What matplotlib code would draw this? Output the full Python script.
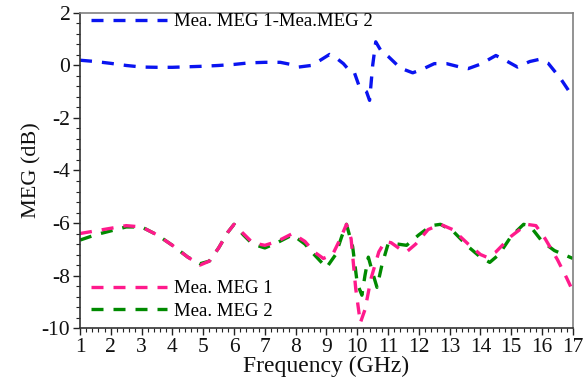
import matplotlib
matplotlib.use("Agg")
import matplotlib.pyplot as plt
from matplotlib.ticker import MultipleLocator

plt.rcParams['font.family'] = ['Liberation Serif', 'DejaVu Serif']
plt.rcParams['axes.unicode_minus'] = False

# Mea. MEG 1 - Mea. MEG 2 (blue)
f_diff = [1.0, 1.5, 2.0, 2.5, 3.0, 3.5, 4.0, 4.5, 5.0, 5.5, 6.0, 6.5, 7.0, 7.5, 7.8,
          8.1, 8.5, 8.8, 9.1, 9.3, 9.55, 9.75, 9.9, 10.05, 10.2, 10.3, 10.4, 10.5,
          10.6, 10.75, 11.0, 11.4, 11.8, 12.1, 12.5, 12.9, 13.3, 13.6, 14.0, 14.5,
          14.8, 15.2, 15.6, 15.9, 16.2, 16.6, 17.0]
meg_diff = [0.2, 0.15, 0.08, 0.0, -0.06, -0.07, -0.07, -0.05, -0.03, 0.0, 0.04, 0.1,
            0.12, 0.12, 0.05, -0.06, 0.0, 0.2, 0.42, 0.3, 0.07, -0.2, -0.25, -0.75,
            -0.9, -1.0, -1.33, 0.0, 0.9, 0.6, 0.35, -0.1, -0.28, -0.15, 0.07, 0.07,
            -0.05, -0.12, 0.05, 0.38, 0.2, -0.06, 0.15, 0.23, 0.08, -0.5, -1.2]

# Mea. MEG 1 (pink)
f_meg1 = [1.0, 1.5, 2.0, 2.5, 3.0, 3.5, 4.0, 4.5, 4.9, 5.2, 5.5, 5.8, 6.0, 6.3, 6.6,
          7.0, 7.4, 7.9, 8.3, 8.6, 8.9, 9.2, 9.45, 9.65, 9.8, 9.95, 10.1, 10.25,
          10.45, 10.7, 10.9, 11.1, 11.4, 11.6, 11.9, 12.3, 12.7, 13.1, 13.6, 14.0,
          14.2, 14.5, 15.0, 15.5, 15.8, 16.1, 16.5, 16.8, 17.0]
meg1 = [-6.4, -6.3, -6.2, -6.1, -6.15, -6.45, -6.85, -7.3, -7.6, -7.45, -6.95, -6.35,
        -6.05, -6.4, -6.75, -6.85, -6.7, -6.4, -6.7, -7.1, -7.35, -7.2, -6.6, -6.05,
        -6.6, -8.5, -9.8, -9.3, -8.1, -7.1, -6.7, -6.75, -7.0, -7.1, -6.8, -6.25,
        -6.05, -6.25, -6.8, -7.2, -7.3, -7.1, -6.5, -6.05, -6.1, -6.6, -7.4, -8.1, -8.6]

# Mea. MEG 2 (green)
f_meg2 = [1.0, 1.5, 2.0, 2.5, 3.0, 3.5, 4.0, 4.5, 4.9, 5.2, 5.5, 5.8, 6.0, 6.3, 6.6,
          7.0, 7.4, 7.9, 8.3, 8.6, 9.0, 9.3, 9.5, 9.65, 9.85, 10.0, 10.15, 10.25,
          10.36, 10.5, 10.64, 10.8, 11.0, 11.3, 11.6, 12.0, 12.4, 12.7, 13.1, 13.6,
          14.0, 14.3, 14.6, 15.0, 15.4, 15.6, 16.0, 16.4, 16.8, 17.0]
meg2 = [-6.65, -6.45, -6.3, -6.15, -6.15, -6.45, -6.85, -7.3, -7.55, -7.45, -6.95,
        -6.35, -6.05, -6.45, -6.8, -6.95, -6.75, -6.45, -6.8, -7.2, -7.7, -7.2, -6.5,
        -6.05, -6.9, -8.3, -8.75, -8.0, -7.3, -7.9, -8.45, -7.6, -6.8, -6.8, -6.85,
        -6.45, -6.1, -6.05, -6.3, -6.9, -7.3, -7.5, -7.2, -6.5, -6.05, -6.1, -6.7,
        -7.05, -7.25, -7.35]

fig = plt.figure(figsize=(5.84, 3.81), dpi=100)
ax = fig.add_axes([0.137, 0.139, 0.844, 0.827])

lw = 2.4
dash = (3.6, 3.0)
lg, = ax.plot(f_meg2, meg2, color='#008a00', lw=lw, dashes=dash, label='Mea. MEG 2')
lp, = ax.plot(f_meg1, meg1, color='#ff1a8c', lw=lw, dashes=dash, label='Mea. MEG 1')
lb, = ax.plot(f_diff, meg_diff, color='#0a14f0', lw=lw, dashes=dash,
              label='Mea. MEG 1-Mea.MEG 2')

ax.set_xlim(1, 17)
ax.set_ylim(-10, 2)
ax.xaxis.set_major_locator(MultipleLocator(1))
ax.xaxis.set_minor_locator(MultipleLocator(0.2))
ax.yaxis.set_major_locator(MultipleLocator(2))
ax.yaxis.set_minor_locator(MultipleLocator(0.4))
ax.tick_params(which='major', direction='out', length=5, width=1, labelsize=15.5,
               pad=2, colors='#222222', labelcolor='#111111')
ax.tick_params(which='minor', direction='out', length=3, width=0.8, colors='#222222')

for s in ['left', 'bottom']:
    ax.spines[s].set_color('#333333')
    ax.spines[s].set_linewidth(1.2)
for s in ['top', 'right']:
    ax.spines[s].set_color('#808080')
    ax.spines[s].set_linewidth(1.2)

ax.set_xlabel('Frequency (GHz)', fontsize=17, labelpad=-1, color='#111111')
ax.set_ylabel('MEG (dB)', fontsize=16, labelpad=0, color='#111111')

leg1 = ax.legend(handles=[lb], loc='upper left', frameon=False, fontsize=13.5,
                 handlelength=4.05, handletextpad=0.35, borderaxespad=0.2,
                 bbox_to_anchor=(0.0, 1.035))
ax.add_artist(leg1)
ax.legend(handles=[lp, lg], loc='lower left', frameon=False, fontsize=13.5,
          handlelength=4.05, handletextpad=0.35, labelspacing=0.3,
          borderaxespad=0.2, bbox_to_anchor=(0.0, -0.01))

fig.savefig('out.png', dpi=100)
